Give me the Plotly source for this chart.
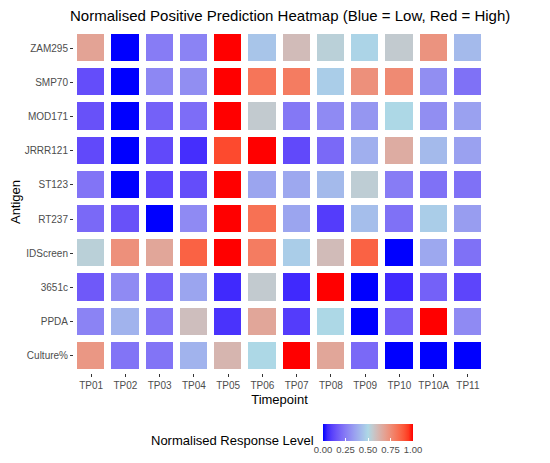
import numpy as np
import plotly.graph_objects as go

# data
timepoints = ["TP01", "TP02", "TP03", "TP04", "TP05", "TP06", "TP07", "TP08",
              "TP09", "TP10", "TP10A", "TP11"]
antigens = ["ZAM295", "SMP70", "MOD171", "JRRR121", "ST123", "RT237",
            "IDScreen", "3651c", "PPDA", "Culture%"]

zam295 = [0.68, 0.00, 0.25, 0.27, 1.00, 0.45, 0.60, 0.53, 0.49, 0.55, 0.73, 0.42]
smp70 = [0.13, 0.00, 0.28, 0.30, 1.00, 0.82, 0.80, 0.47, 0.74, 0.76, 0.30, 0.22]
mod171 = [0.14, 0.00, 0.18, 0.21, 1.00, 0.55, 0.24, 0.29, 0.32, 0.50, 0.30, 0.35]
jrrr121 = [0.12, 0.00, 0.12, 0.06, 0.92, 1.00, 0.12, 0.20, 0.39, 0.65, 0.42, 0.35]
st123 = [0.23, 0.00, 0.11, 0.13, 1.00, 0.36, 0.37, 0.42, 0.54, 0.25, 0.22, 0.22]
rt237 = [0.20, 0.14, 0.00, 0.29, 1.00, 0.83, 0.36, 0.09, 0.43, 0.22, 0.47, 0.34]
idscreen = [0.53, 0.74, 0.67, 0.87, 1.00, 0.80, 0.47, 0.60, 0.87, 0.00, 0.37, 0.22]
c3651c = [0.16, 0.29, 0.18, 0.36, 0.05, 0.55, 0.05, 1.00, 0.00, 0.05, 0.18, 0.11]
ppda = [0.27, 0.40, 0.23, 0.59, 0.07, 0.67, 0.09, 0.50, 0.00, 0.17, 1.00, 0.29]
culture = [0.72, 0.23, 0.23, 0.40, 0.62, 0.50, 1.00, 0.67, 0.20, 0.00, 0.00, 0.00]

z = [zam295, smp70, mod171, jrrr121, st123, rt237, idscreen, c3651c, ppda, culture]


# blue -> lightblue -> red, interpolated in Lab like ggplot's gradient2
def to_lab(rgb):
    c = np.array(rgb) / 255.0
    c = np.where(c > 0.04045, ((c + 0.055) / 1.055) ** 2.4, c / 12.92)
    m = np.array([[0.4124, 0.3576, 0.1805],
                  [0.2126, 0.7152, 0.0722],
                  [0.0193, 0.1192, 0.9505]])
    xyz = m @ c / np.array([0.95047, 1.0, 1.08883])
    f = np.where(xyz > 0.008856, np.cbrt(xyz), 7.787 * xyz + 16 / 116)
    return np.array([116 * f[1] - 16, 500 * (f[0] - f[1]), 200 * (f[1] - f[2])])


def from_lab(lab):
    fy = (lab[0] + 16) / 116
    fx = fy + lab[1] / 500
    fz = fy - lab[2] / 200
    f = np.array([fx, fy, fz])
    xyz = np.where(f ** 3 > 0.008856, f ** 3, (f - 16 / 116) / 7.787)
    xyz = xyz * np.array([0.95047, 1.0, 1.08883])
    m = np.array([[3.2406, -1.5372, -0.4986],
                  [-0.9689, 1.8758, 0.0415],
                  [0.0557, -0.2040, 1.0570]])
    c = m @ xyz
    c = np.where(c > 0.0031308, 1.055 * np.abs(c) ** (1 / 2.4) - 0.055, 12.92 * c)
    c = np.clip(c, 0, 1) * 255
    return "rgb(%d,%d,%d)" % tuple(np.round(c).astype(int))


low, mid, high = to_lab((0, 0, 255)), to_lab((173, 216, 230)), to_lab((255, 0, 0))
colorscale = []
for t in np.linspace(0, 1, 21):
    if t <= 0.5:
        lab = low + (mid - low) * (t / 0.5)
    else:
        lab = mid + (high - mid) * ((t - 0.5) / 0.5)
    colorscale.append([float(t), from_lab(lab)])

fig = go.Figure()
fig.add_trace(go.Heatmap(
    x=timepoints, y=antigens, z=z,
    zmin=0, zmax=1,
    colorscale=colorscale,
    xgap=7, ygap=7,
    colorbar=dict(
        orientation="h",
        x=0.825, xanchor="right", y=-0.150, yanchor="top",
        len=90, lenmode="pixels", thickness=17,
        xpad=0, ypad=0,
        tickvals=[0, 0.25, 0.5, 0.75, 1],
        ticktext=["0.00", "0.25", "0.50", "0.75", "1.00"],
        ticks="inside", ticklen=3, tickcolor="white", tickangle=0,
        tickfont=dict(size=9.5, color="#4D4D4D"),
        outlinewidth=0,
    ),
))

fig.update_layout(
    width=550, height=463,
    margin=dict(l=66, r=73, t=22.5, b=97.5),
    paper_bgcolor="white", plot_bgcolor="white",
    font=dict(family="Liberation Sans, Arial, sans-serif", color="#000000"),
    title=dict(text="Normalised Positive Prediction Heatmap (Blue = Low, Red = High)",
               x=0.513, xanchor="center", y=0.984, yanchor="middle",
               font=dict(size=15)),
    xaxis=dict(title=dict(text="Timepoint", font=dict(size=13), standoff=4),
               automargin=False,
               showgrid=False, zeroline=False, ticks="outside", ticklen=3,
               tickcolor="#333333", tickfont=dict(size=10, color="#4D4D4D")),
    yaxis=dict(title=dict(text="Antigen", font=dict(size=13), standoff=4),
               automargin=False, autorange="reversed",
               showgrid=False, zeroline=False, ticks="outside", ticklen=3,
               tickcolor="#333333", tickfont=dict(size=10, color="#4D4D4D")),
    annotations=[dict(text="Normalised Response Level", xref="paper", yref="paper",
                      x=0.589, y=-0.197, xanchor="right", yanchor="middle",
                      showarrow=False, font=dict(size=13))],
)

fig.write_html("out.html")
